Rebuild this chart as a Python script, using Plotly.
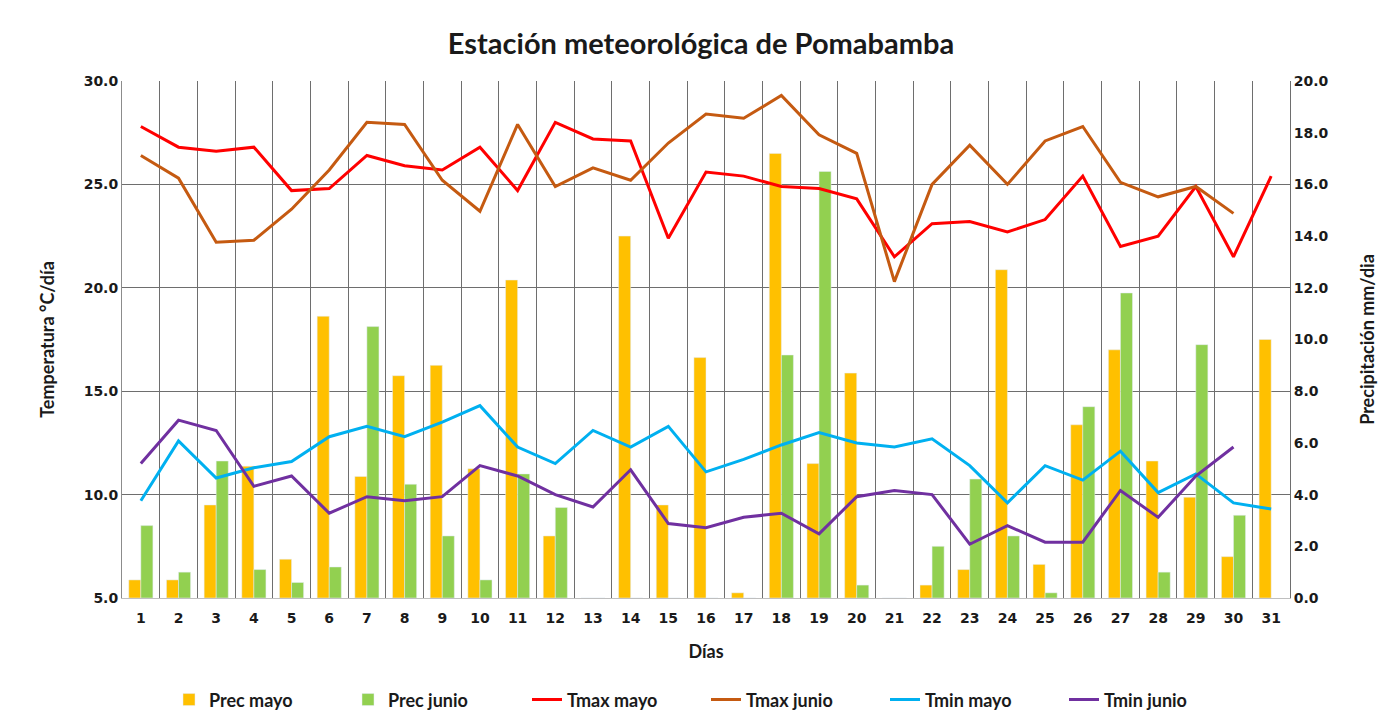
import plotly.graph_objects as go

dias = [str(d) for d in range(1, 32)]

prec_mayo = [0.7, 0.7, 3.6, 5.1, 1.5, 10.9, 4.7, 8.6, 9.0, 5.0, 12.3, 2.4, 0, 14.0, 3.6, 9.3,
             0.2, 17.2, 5.2, 8.7, 0, 0.5, 1.1, 12.7, 1.3, 6.7, 9.6, 5.3, 3.9, 1.6, 10.0]
prec_junio = [2.8, 1.0, 5.3, 1.1, 0.6, 1.2, 10.5, 4.4, 2.4, 0.7, 4.8, 3.5, 0, 0, 0, 0,
              0, 9.4, 16.5, 0.5, 0, 2.0, 4.6, 2.4, 0.2, 7.4, 11.8, 1.0, 9.8, 3.2, None]
tmax_mayo = [27.8, 26.8, 26.6, 26.8, 24.7, 24.8, 26.4, 25.9, 25.7, 26.8, 24.7, 28.0, 27.2, 27.1,
             22.4, 25.6, 25.4, 24.9, 24.8, 24.3, 21.5, 23.1, 23.2, 22.7, 23.3, 25.4, 22.0, 22.5,
             24.9, 21.5, 25.4]
tmax_junio = [26.4, 25.3, 22.2, 22.3, 23.8, 25.7, 28.0, 27.9, 25.2, 23.7, 27.9, 24.9, 25.8, 25.2,
              27.0, 28.4, 28.2, 29.3, 27.4, 26.5, 20.3, 25.0, 26.9, 25.0, 27.1, 27.8, 25.1, 24.4,
              24.9, 23.6, None]
tmin_mayo = [9.7, 12.6, 10.8, 11.3, 11.6, 12.8, 13.3, 12.8, 13.5, 14.3, 12.3, 11.5, 13.1, 12.3,
             13.3, 11.1, 11.7, 12.4, 13.0, 12.5, 12.3, 12.7, 11.4, 9.6, 11.4, 10.7, 12.1, 10.1,
             11.0, 9.6, 9.3]
tmin_junio = [11.5, 13.6, 13.1, 10.4, 10.9, 9.1, 9.9, 9.7, 9.9, 11.4, 10.9, 10.0, 9.4, 11.2,
              8.6, 8.4, 8.9, 9.1, 8.1, 9.9, 10.2, 10.0, 7.6, 8.5, 7.7, 7.7, 10.2, 8.9, 10.9,
              12.3, None]

title_text = "Estación meteorológica de Pomabamba"
x_title = "Días"
y_left_title = "Temperatura °C/día"
y_right_title = "Precipitación mm/dia"

TXT = "Lato"
NUM = "DejaVu Sans"
INK = "#1a1a1a"
GRID = "#6e6e6e"

W, H = 1386, 713

fig = go.Figure()
fig.add_trace(go.Bar(x=dias, y=prec_mayo, name="Prec mayo", marker_color="#FFC000",
                     yaxis="y"))
fig.add_trace(go.Bar(x=dias, y=prec_junio, name="Prec junio", marker_color="#92D050",
                     yaxis="y"))
line_specs = [
    (tmax_mayo, "Tmax mayo", "#FF0000"),
    (tmax_junio, "Tmax junio", "#C55A11"),
    (tmin_mayo, "Tmin mayo", "#00B0F0"),
    (tmin_junio, "Tmin junio", "#7030A0"),
]
for vals, nm, col in line_specs:
    fig.add_trace(go.Scatter(x=dias, y=vals, name=nm, mode="lines",
                             line=dict(color=col, width=3), yaxis="y2"))

tickfont = dict(family=NUM, size=14, color=INK, weight="bold")

fig.update_layout(
    width=W, height=H,
    paper_bgcolor="white", plot_bgcolor="white",
    margin=dict(l=114, r=104, t=73, b=123, autoexpand=False),
    barmode="group", bargap=0.36, bargroupgap=0,
    title=dict(text="<b>" + title_text + "</b>", x=0.5, xanchor="center",
               y=1 - 36 / H, yanchor="middle", yref="container",
               font=dict(family=TXT, size=29, color=INK)),
    xaxis=dict(type="category", tickson="boundaries", showgrid=True,
               gridcolor=GRID, gridwidth=1,
               showline=True, linecolor="#bfbfbf", mirror=False,
               ticks="", tickfont=tickfont, ticklabelstandoff=7,
               title=dict(text="<b>" + x_title + "</b>", standoff=20,
                          font=dict(family=TXT, size=18, color=INK))),
    yaxis=dict(range=[0, 20], dtick=2, tickformat=".1f", side="right",
               showgrid=False, zeroline=False,
               minor=dict(tickmode="array", tickvals=[4, 8, 12, 16, 20], showgrid=True,
                          gridcolor=GRID, gridwidth=1, ticks=""),
               showline=True, linecolor=GRID,
               tickfont=tickfont,
               title=dict(text="<b>" + y_right_title + "</b>", standoff=33,
                          font=dict(family=TXT, size=18, color=INK))),
    yaxis2=dict(range=[5, 30], dtick=5, tickformat=".1f", side="left",
                overlaying="y", showgrid=False, zeroline=False,
                showline=True, linecolor="#8c8c8c",
                tickfont=tickfont,
                title=dict(text="<b>" + y_left_title + "</b>", standoff=24,
                           font=dict(family=TXT, size=18, color=INK))),
    legend=dict(orientation="h", x=0.5, xanchor="center", y=-0.197, yanchor="middle",
                font=dict(family=TXT, size=18, color=INK, weight="bold"),
                traceorder="normal", itemwidth=30, entrywidth=134),
    showlegend=True,
)

fig.write_html("out.html")
